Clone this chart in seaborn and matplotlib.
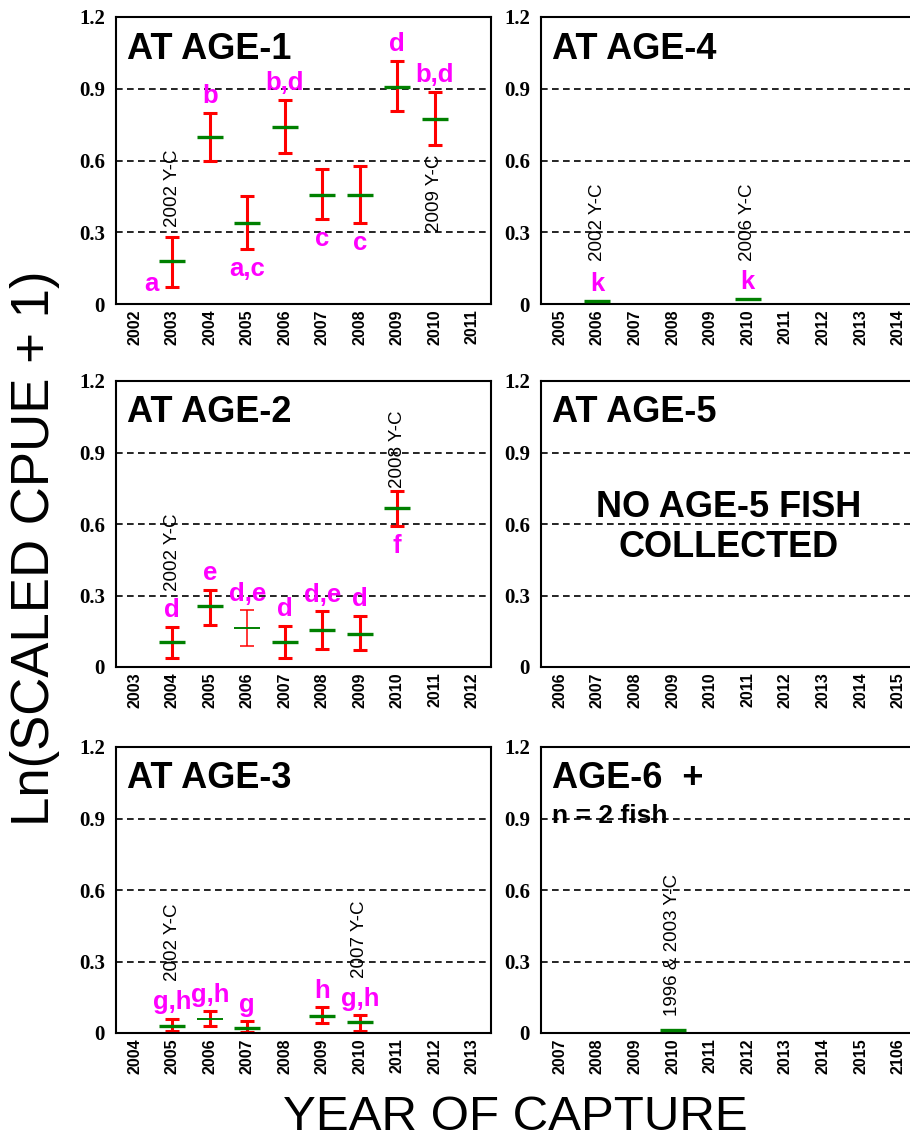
import matplotlib
matplotlib.use("Agg")
import matplotlib.pyplot as plt
import seaborn as sns
import pandas as pd
from matplotlib import font_manager

# ---------------- data ----------------
age1_years = [str(y) for y in range(2002, 2012)]
age1_cap = ["2003", "2004", "2005", "2006", "2007", "2008", "2009", "2010"]
age1_mean = [0.18, 0.70, 0.338, 0.742, 0.456, 0.456, 0.907, 0.774]
age1_lo = [0.073, 0.60, 0.23, 0.63, 0.356, 0.34, 0.808, 0.666]
age1_hi = [0.282, 0.80, 0.45, 0.854, 0.565, 0.575, 1.017, 0.887]
age1_letters = ["a", "b", "a,c", "b,d", "c", "c", "d", "b,d"]
age1_letter_side = ["left", "above", "below", "above", "below", "below", "above", "above"]
age1_yc = [("2002 Y-C", "2003"), ("2009 Y-C", "2010")]

age2_years = [str(y) for y in range(2003, 2013)]
age2_cap = ["2004", "2005", "2006", "2007", "2008", "2009", "2010"]
age2_mean = [0.105, 0.256, 0.164, 0.105, 0.157, 0.137, 0.667]
age2_lo = [0.038, 0.178, 0.088, 0.038, 0.077, 0.070, 0.592]
age2_hi = [0.167, 0.325, 0.238, 0.172, 0.234, 0.214, 0.738]
age2_letters = ["d", "e", "d,e", "d", "d,e", "d", "f"]
age2_letter_side = ["above", "above", "above", "above", "above", "above", "below"]
age2_yc = [("2002 Y-C", "2004"), ("2008 Y-C", "2010")]
age2_thin_err = ["2006"]
age2_thin_mean = ["2006"]

age3_years = [str(y) for y in range(2004, 2014)]
age3_cap = ["2005", "2006", "2007", "2009", "2010"]
age3_mean = [0.031, 0.059, 0.021, 0.073, 0.045]
age3_lo = [0.007, 0.028, 0.003, 0.042, 0.007]
age3_hi = [0.059, 0.091, 0.049, 0.108, 0.074]
age3_letters = ["g,h", "g,h", "g", "h", "g,h"]
age3_letter_side = ["above"] * 5
age3_yc = [("2002 Y-C", "2005"), ("2007 Y-C", "2010")]
age3_thin_mean = ["2006"]

age4_years = [str(y) for y in range(2005, 2015)]
age4_cap = ["2006", "2010"]
age4_mean = [0.012, 0.020]
age4_letters = ["k", "k"]
age4_letter_side = ["above", "above"]
age4_yc = [("2002 Y-C", "2006"), ("2006 Y-C", "2010")]

age5_years = [str(y) for y in range(2006, 2016)]

age6_years = [str(y) for y in range(2007, 2016)] + ["2106"]
age6_cap = ["2010"]
age6_mean = [0.012]
age6_yc = [("1996 & 2003 Y-C", "2010")]

# ---------------- layout (positions / styles) ----------------
sns.set_theme(style="white")
plt.rcParams["font.family"] = ["Liberation Sans", "DejaVu Sans"]
for key in ("text.color", "axes.labelcolor", "xtick.color", "ytick.color", "axes.edgecolor"):
    plt.rcParams[key] = "black"

names = {f.name for f in font_manager.fontManager.ttflist}
if "Liberation Sans Narrow" in names:
    NARROW, NARROW_SIZE = "Liberation Sans Narrow", 15
else:
    NARROW, NARROW_SIZE = "Liberation Sans", 13.5

W, H = 910, 1146
fig = plt.figure(figsize=(W / 100, H / 100), dpi=100)

def frac_rect(left, top, right, bottom):
    return [left / W, 1 - bottom / H, (right - left) / W, (bottom - top) / H]

LEFT_X = (116, 491)
RIGHT_X = (541, 917)
ROWS = [(17, 304), (381, 667), (747, 1033)]

RED = "#ff0000"
GREEN = "#008000"
MAGENTA = "#ff00ff"
LETTER_SIZE = 18.5

yc_bottoms = {
    "age1": [0.32, 0.30],
    "age2": [0.32, 0.75],
    "age3": [0.217, 0.23],
    "age4": [0.18, 0.18],
    "age6": [0.07],
}


def base_axes(rect, years, title):
    ax = fig.add_axes(rect)
    ax.set_xlim(-0.5, len(years) - 0.5)
    ax.set_ylim(0, 1.2)
    ax.set_xticks(range(len(years)))
    ax.set_xticklabels(years, rotation=90, fontsize=11.5, fontweight="bold",
                       family=["Liberation Sans", "DejaVu Sans"], color="black")
    ax.set_yticks([0, 0.3, 0.6, 0.9, 1.2])
    ax.set_yticklabels(["0", "0.3", "0.6", "0.9", "1.2"], fontsize=15,
                       fontweight="bold", family=["Liberation Serif", "DejaVu Serif"],
                       color="black")
    ax.tick_params(axis="both", length=0)
    ax.tick_params(axis="y", pad=8)
    ax.tick_params(axis="x", pad=4)
    for s in ax.spines.values():
        s.set_visible(True)
        s.set_color("black")
        s.set_linewidth(1.5)
    for gy in (0.3, 0.6, 0.9):
        ax.axhline(gy, color="black", lw=1.2, linestyle=(0, (4, 2.6)), zorder=0)
    ax.set_xlabel("")
    ax.set_ylabel("")
    if title:
        ax.text(0.03, 0.855, title, transform=ax.transAxes, fontsize=26,
                fontweight="bold", va="baseline", ha="left", color="black")
    return ax


def draw_panel(ax, years, cap, mean, lo=None, hi=None, thin_err=(), thin_mean=()):
    df = pd.DataFrame({"year": cap, "mean": mean})
    if lo is not None:
        for yr, m, l, h in zip(cap, mean, lo, hi):
            pos = years.index(yr)
            thin = yr in thin_err
            ax.errorbar([pos], [m], yerr=[[m - l], [h - m]], fmt="none",
                        ecolor=RED, elinewidth=1.1 if thin else 2.2,
                        capsize=5, capthick=1.1 if thin else 2.2, zorder=2)
    thick_df = df[~df["year"].isin(thin_mean)]
    thin_df = df[df["year"].isin(thin_mean)]
    if len(thick_df):
        sns.pointplot(data=thick_df, x="year", y="mean", order=years, ax=ax,
                      color=GREEN, marker="_", markersize=19, markeredgewidth=2.4,
                      linestyle="none", errorbar=None, zorder=3)
    if len(thin_df):
        sns.pointplot(data=thin_df, x="year", y="mean", order=years, ax=ax,
                      color=GREEN, marker="_", markersize=19, markeredgewidth=1.4,
                      linestyle="none", errorbar=None, zorder=3)
    ax.set_xlim(-0.5, len(years) - 0.5)
    ax.set_ylim(0, 1.2)
    ax.set_xlabel("")
    ax.set_ylabel("")


def draw_letters(ax, years, cap, mean, lo, hi, letters, sides):
    for yr, m, l, h, let, side in zip(cap, mean, lo, hi, letters, sides):
        pos = years.index(yr)
        kw = dict(textcoords="offset points", ha="center", color=MAGENTA,
                  fontsize=LETTER_SIZE, fontweight="bold")
        if side == "above":
            ax.annotate(let, (pos, h), xytext=(0, 7), va="baseline", **kw)
        elif side == "below":
            ax.annotate(let, (pos, l), xytext=(0, -6), va="top", **kw)
        else:
            ax.annotate(let, (pos, l), xytext=(-15, 2), va="center", **kw)


def draw_yc(ax, years, yc, bottoms):
    for (txt, yr), yb in zip(yc, bottoms):
        ax.text(years.index(yr), yb, txt, rotation=90, ha="center", va="bottom",
                fontsize=NARROW_SIZE, family=[NARROW, "DejaVu Sans"], color="black",
                zorder=4)


# Age-1
ax1 = base_axes(frac_rect(LEFT_X[0], ROWS[0][0], LEFT_X[1], ROWS[0][1]), age1_years, "AT AGE-1")
draw_panel(ax1, age1_years, age1_cap, age1_mean, age1_lo, age1_hi)
draw_letters(ax1, age1_years, age1_cap, age1_mean, age1_lo, age1_hi, age1_letters, age1_letter_side)
draw_yc(ax1, age1_years, age1_yc, yc_bottoms["age1"])

# Age-2
ax2 = base_axes(frac_rect(LEFT_X[0], ROWS[1][0], LEFT_X[1], ROWS[1][1]), age2_years, "AT AGE-2")
draw_panel(ax2, age2_years, age2_cap, age2_mean, age2_lo, age2_hi,
           thin_err=age2_thin_err, thin_mean=age2_thin_mean)
draw_letters(ax2, age2_years, age2_cap, age2_mean, age2_lo, age2_hi, age2_letters, age2_letter_side)
draw_yc(ax2, age2_years, age2_yc, yc_bottoms["age2"])

# Age-3
ax3 = base_axes(frac_rect(LEFT_X[0], ROWS[2][0], LEFT_X[1], ROWS[2][1]), age3_years, "AT AGE-3")
draw_panel(ax3, age3_years, age3_cap, age3_mean, age3_lo, age3_hi, thin_mean=age3_thin_mean)
draw_letters(ax3, age3_years, age3_cap, age3_mean, age3_lo, age3_hi, age3_letters, age3_letter_side)
draw_yc(ax3, age3_years, age3_yc, yc_bottoms["age3"])

# Age-4
ax4 = base_axes(frac_rect(RIGHT_X[0], ROWS[0][0], RIGHT_X[1], ROWS[0][1]), age4_years, "AT AGE-4")
draw_panel(ax4, age4_years, age4_cap, age4_mean)
draw_letters(ax4, age4_years, age4_cap, age4_mean, age4_mean, age4_mean, age4_letters, age4_letter_side)
draw_yc(ax4, age4_years, age4_yc, yc_bottoms["age4"])

# Age-5
ax5 = base_axes(frac_rect(RIGHT_X[0], ROWS[1][0], RIGHT_X[1], ROWS[1][1]), age5_years, "AT AGE-5")
mid5 = (len(age5_years) - 1) / 2
ax5.text(mid5, 0.63, "NO AGE-5 FISH", ha="center", va="baseline", fontsize=26,
         fontweight="bold", color="black")
ax5.text(mid5, 0.46, "COLLECTED", ha="center", va="baseline", fontsize=26,
         fontweight="bold", color="black")

# Age-6+
ax6 = base_axes(frac_rect(RIGHT_X[0], ROWS[2][0], RIGHT_X[1], ROWS[2][1]), age6_years, "AGE-6  +")
draw_panel(ax6, age6_years, age6_cap, age6_mean)
draw_yc(ax6, age6_years, age6_yc, yc_bottoms["age6"])
ax6.text(0.03, 0.735, "n = 2 fish", transform=ax6.transAxes, fontsize=19,
         fontweight="bold", va="baseline", ha="left", color="black")

# axis titles
fig.text(35 / W, 1 - 548 / H, "Ln(SCALED CPUE + 1)", rotation=90, ha="center",
         va="center", fontsize=38, color="black")
fig.text(515 / W, 1 - 1118 / H, "YEAR OF CAPTURE", ha="center", va="center",
         fontsize=35.5, color="black")

fig.savefig("out.png", dpi=100, facecolor="white")
